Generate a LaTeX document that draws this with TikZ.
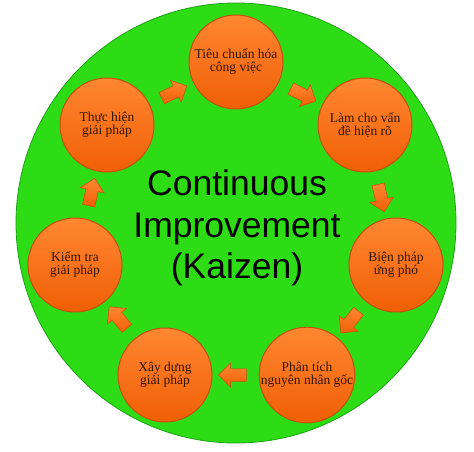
\documentclass[tikz,border=0pt]{standalone}
\usepackage{fontspec}
\setmainfont{Liberation Serif}
\newfontfamily\bigsans{Liberation Sans}
\usetikzlibrary{shapes.arrows}
\definecolor{kgreen}{RGB}{45,220,20}
\definecolor{kgreenedge}{RGB}{30,160,20}
\definecolor{korangetop}{RGB}{255,135,50}
\definecolor{korangebot}{RGB}{240,95,5}
\definecolor{kedge}{RGB}{195,80,10}
\definecolor{ktext}{RGB}{50,20,0}
\tikzset{
  stepcircle/.style={circle, minimum size=94pt, inner sep=0pt, draw=kedge, line width=1pt,
    top color=korangetop, bottom color=korangebot, text=ktext, align=center,
    font=\fontsize{13.5}{13}\selectfont},
  blockarrow/.style={single arrow, draw=kedge, line width=0.5pt, top color=korangetop, bottom color=korangebot,
    minimum height=28pt, inner xsep=0pt, inner ysep=6pt, single arrow head extend=6pt,
    single arrow tip angle=90, sloped, allow upside down}
}
\begin{document}
\begin{tikzpicture}[x=1pt,y=-1pt]
\useasboundingbox (0,0) rectangle (474,452);
\node[circle, minimum size=440pt, inner sep=0pt, fill=kgreen, draw=kgreenedge, line width=0.8pt] (big) at (236,223) {};
\node[stepcircle] (s1) at (236,62) {Tiêu chuẩn hóa\\công việc};
\node[stepcircle] (s2) at (365,125) {Làm cho vấn\\đề hiện rõ};
\node[stepcircle] (s3) at (396,265) {Biện pháp\\ứng phó};
\node[stepcircle] (s4) at (307,375) {Phân tích\\nguyên nhân gốc};
\node[stepcircle] (s5) at (165,375) {Xây dựng\\giải pháp};
\node[stepcircle] (s6) at (75,265) {Kiểm tra\\giải pháp};
\node[stepcircle] (s7) at (107,125) {Thực hiện\\giải pháp};
\path (s7) -- node[blockarrow] (a71) {} (s1);
\path (s1) -- node[blockarrow] (a12) {} (s2);
\path (s2) -- node[blockarrow] (a23) {} (s3);
\path (s3) -- node[blockarrow] (a34) {} (s4);
\path (s4) -- node[blockarrow] (a45) {} (s5);
\path (s5) -- node[blockarrow] (a56) {} (s6);
\path (s6) -- node[blockarrow] (a67) {} (s7);
\node[align=center, font={\bigsans\fontsize{35.5}{41.5}\selectfont}, text=black, inner sep=0pt] (title) at (237,228) {Continuous\\Improvement\\(Kaizen)};
\end{tikzpicture}
\end{document}
